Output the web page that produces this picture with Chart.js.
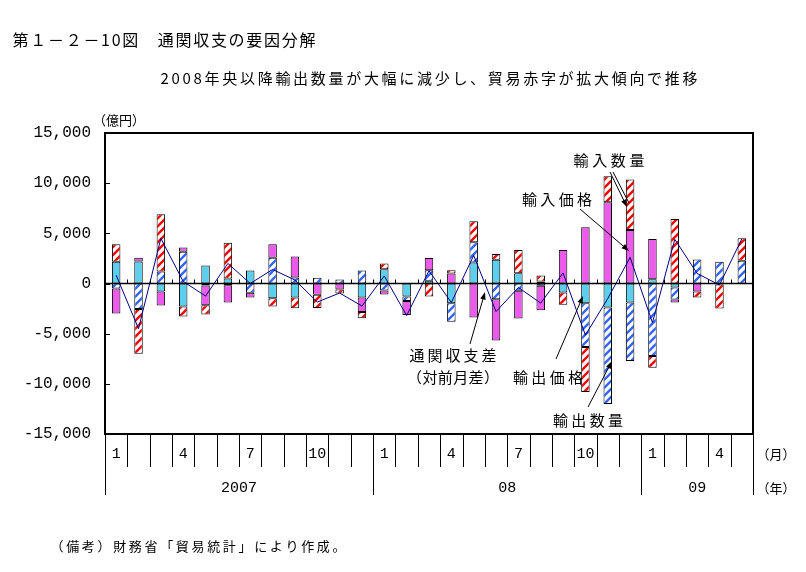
<!DOCTYPE html>
<html>
<head>
<meta charset="utf-8">
<script src="https://cdn.jsdelivr.net/npm/chart.js@4.4.0/dist/chart.umd.min.js"></script>
<style>
    html, body { margin: 0; padding: 0; background: #ffffff; }
    #factor_chart_cnv { display: block; }
</style>
</head>
<body>
<canvas id="factor_chart_cnv" width="806" height="572"></canvas>
<script>
// 通関収支の要因分解 (2007/1 - 2009/5), 億円

const categories = [
    "2007/1", "2007/2", "2007/3", "2007/4", "2007/5", "2007/6", "2007/7", "2007/8", "2007/9", "2007/10", "2007/11", "2007/12",
    "2008/1", "2008/2", "2008/3", "2008/4", "2008/5", "2008/6", "2008/7", "2008/8", "2008/9", "2008/10", "2008/11", "2008/12",
    "2009/1", "2009/2", "2009/3", "2009/4", "2009/5"
];

// stack order follows the reference: 輸出価格, 輸出数量, 輸入価格, 輸入数量
const export_price = [2170, 2200, -800, -2300, 1800, 500, 1300, -1470, -1400, 0, 0, -1400,
    1430, -1300, 270, -1970, 2100, 2370, 1030, 200, -900, -1970, -2400, -1900, 430, -400, 0, 0, 0];
const export_quantity = [-500, -2530, 1200, 3170, -200, -170, -930, 2570, 600, 570, 400, 1300,
    -700, -450, 1050, -1830, 2000, -1570, -730, -230, 0, -4370, -9600, -5830, -7230, -1200, 2400, 2170, 2270];
const import_price = [-2500, 370, -1400, 430, -1970, -1730, -470, 1330, 2100, -1130, -600, -1430,
    -400, -1400, 1230, 1000, -3400, -4100, -2770, -2430, 3330, 5600, 8100, 5330, 4000, -300, -800, -100, 0];
const import_quantity = [1730, -4470, 5700, -1000, -930, 3550, 0, -820, -1070, -1300, -400, -630,
    570, 0, -1300, 330, 2100, 570, 2300, 600, -1230, -4470, 2600, 5030, -1170, 6430, -600, -2400, 2230];
const balance_change = [830, -4500, 4500, 200, -1250, 2000, 0, 1400, 350, -1850, -950, -2250,
    750, -3200, 1270, -1900, 2800, -2800, -400, -1950, 1050, -5150, -1500, 2600, -3900, 4400, 1000, -150, 4450];

const month_tick_labels = ["1", "", "", "4", "", "", "7", "", "", "10", "", "",
    "1", "", "", "4", "", "", "7", "", "", "10", "", "",
    "1", "", "", "4", ""];
const year_labels = ["2007", "08", "09"];
const year_starts = [0, 12, 24, 29];   // category index where each year begins (last = end)
const y_ticks = [-15000, -10000, -5000, 0, 5000, 10000, 15000];

const jp_font = "'Noto Sans CJK JP', 'Noto Sans', sans-serif";
const num_font = "'Liberation Mono', 'DejaVu Sans Mono', monospace";

/**
 * Diagonal "/" hatch on white, used for the quantity bars.
 */
function stripe_pattern(color) {
    const cnv = document.createElement("canvas");
    cnv.width = 8;
    cnv.height = 8;
    const g = cnv.getContext("2d");
    g.fillStyle = "#ffffff";
    g.fillRect(0, 0, 8, 8);
    g.strokeStyle = color;
    g.lineWidth = 2.4;
    g.beginPath();
    g.moveTo(-2, 10); g.lineTo(10, -2);
    g.moveTo(-2, 2); g.lineTo(2, -2);
    g.moveTo(6, 10); g.lineTo(10, 6);
    g.stroke();
    return g.createPattern(cnv, "repeat");
}

function spaced_text(ctx, text, cx, cy, width) {
    const chars = Array.from(text);
    const widths = chars.map(c => ctx.measureText(c).width);
    const natural = widths.reduce((a, b) => a + b, 0);
    let gap = chars.length > 1 ? (width - natural) / (chars.length - 1) : 0;
    if (gap < 0) gap = 0;
    const total = natural + gap * (chars.length - 1);
    let x = cx - total / 2;
    ctx.textAlign = "left";
    chars.forEach((c, i) => {
        ctx.fillText(c, x, cy);
        x += widths[i] + gap;
    });
}

function arrow(ctx, x1, y1, x2, y2) {
    const ang = Math.atan2(y2 - y1, x2 - x1);
    const head = 8;
    ctx.strokeStyle = "#000000";
    ctx.fillStyle = "#000000";
    ctx.lineWidth = 1;
    ctx.beginPath();
    ctx.moveTo(x1, y1);
    ctx.lineTo(x2 - Math.cos(ang) * head * 0.8, y2 - Math.sin(ang) * head * 0.8);
    ctx.stroke();
    ctx.beginPath();
    ctx.moveTo(x2, y2);
    ctx.lineTo(x2 - head * Math.cos(ang - 0.35), y2 - head * Math.sin(ang - 0.35));
    ctx.lineTo(x2 - head * Math.cos(ang + 0.35), y2 - head * Math.sin(ang + 0.35));
    ctx.closePath();
    ctx.fill();
}

// text decorations, frame and the two-row category axis
const decoration_plugin = {
    id: "decoration_plugin",
    afterDraw(chart) {
        const ctx = chart.ctx;
        const area = chart.chartArea;
        const x_scale = chart.scales.x;
        const y_scale = chart.scales.y;
        const cell = (area.right - area.left) / categories.length;
        const zero_y = y_scale.getPixelForValue(0);

        ctx.save();
        ctx.strokeStyle = "#000000";

        // zero line with small ticks on the month borders
        ctx.lineWidth = 1.5;
        ctx.beginPath();
        ctx.moveTo(area.left, zero_y);
        ctx.lineTo(area.right, zero_y);
        ctx.stroke();
        ctx.lineWidth = 1;
        ctx.beginPath();
        for (let i = 1; i < categories.length; i++) {
            const bx = Math.round(x_scale.getPixelForValue(i) - cell / 2) + 0.5;
            ctx.moveTo(bx, zero_y);
            ctx.lineTo(bx, zero_y - 4);
        }
        // inner ticks on the value axis
        y_ticks.forEach(v => {
            const ty = Math.round(y_scale.getPixelForValue(v)) + 0.5;
            ctx.moveTo(area.left, ty);
            ctx.lineTo(area.left + 5, ty);
        });
        ctx.stroke();

        // plot frame
        ctx.lineWidth = 2;
        ctx.strokeRect(area.left, area.top, area.right - area.left, area.bottom - area.top);

        // month / year rows
        ctx.lineWidth = 1;
        ctx.beginPath();
        for (let i = 0; i <= categories.length; i++) {
            const bx = Math.round(area.left + i * cell) + 0.5;
            const long = year_starts.indexOf(i) >= 0;
            ctx.moveTo(bx, area.bottom);
            ctx.lineTo(bx, long ? 495 : 467);
        }
        ctx.stroke();

        ctx.fillStyle = "#000000";
        ctx.textBaseline = "middle";
        ctx.font = "15px " + num_font;
        ctx.textAlign = "center";
        month_tick_labels.forEach((lbl, i) => {
            if (lbl) ctx.fillText(lbl, x_scale.getPixelForValue(i), 454);
        });
        year_labels.forEach((lbl, k) => {
            const x0 = area.left + year_starts[k] * cell;
            const x1 = area.left + year_starts[k + 1] * cell;
            ctx.fillText(lbl, (x0 + x1) / 2, 488);
        });

        // titles and units
        ctx.font = "16px " + jp_font;
        spaced_text(ctx, "第１－２－10図　通関収支の要因分解", 164, 40, 303);
        ctx.font = "15px " + jp_font;
        spaced_text(ctx, "2008年央以降輸出数量が大幅に減少し、貿易赤字が拡大傾向で推移", 429, 78, 537);
        ctx.font = "13px " + jp_font;
        spaced_text(ctx, "（億円）", 119, 120, 50);
        spaced_text(ctx, "（月）", 776, 454, 36);
        spaced_text(ctx, "（年）", 776, 488, 36);
        ctx.font = "13px " + jp_font;
        spaced_text(ctx, "（備考）財務省「貿易統計」により作成。", 198, 546, 295);

        // series call-outs
        ctx.font = "15px " + jp_font;
        spaced_text(ctx, "輸入数量", 609, 160, 71);
        spaced_text(ctx, "輸入価格", 557, 199, 70);
        spaced_text(ctx, "通関収支差", 453, 355, 87);
        spaced_text(ctx, "（対前月差）", 453, 377, 92);
        spaced_text(ctx, "輸出価格", 548, 377, 70);
        spaced_text(ctx, "輸出数量", 588, 420, 70);

        arrow(ctx, 610, 172, 627, 207);
        ctx.beginPath();
        ctx.moveTo(613, 172);
        ctx.lineTo(629, 203);
        ctx.stroke();
        arrow(ctx, 580, 209, 629, 251);
        arrow(ctx, 470, 344, 485, 292);
        arrow(ctx, 556, 359, 583, 296);
        arrow(ctx, 588, 407, 612, 361);

        ctx.restore();
    }
};

const bar_common = {
    type: "bar",
    borderColor: "#000000",
    borderWidth: 1,
    borderSkipped: false,
    barPercentage: 0.38,
    categoryPercentage: 1.0,
    yAxisID: "y",
    order: 1
};

// the price series are fine dot screens in the original; a flat tint of the same colour is used
const factor_chart = new Chart(document.getElementById("factor_chart_cnv").getContext("2d"), {
    data: {
        labels: categories,
        datasets: [
            Object.assign({}, bar_common, {
                label: "輸出価格",
                data: export_price,
                backgroundColor: "#5ccfee"
            }),
            Object.assign({}, bar_common, {
                label: "輸出数量",
                data: export_quantity,
                backgroundColor: stripe_pattern("#3366ff")
            }),
            Object.assign({}, bar_common, {
                label: "輸入価格",
                data: import_price,
                backgroundColor: "#ec5aec"
            }),
            Object.assign({}, bar_common, {
                label: "輸入数量",
                data: import_quantity,
                backgroundColor: stripe_pattern("#ff0000")
            }),
            {
                type: "line",
                label: "通関収支差（対前月差）",
                data: balance_change,
                borderColor: "#000080",
                borderWidth: 1,
                pointRadius: 0,
                tension: 0,
                fill: false,
                yAxisID: "y2",
                order: 0
            }
        ]
    },
    options: {
        responsive: false,
        animation: false,
        events: [],
        layout: {
            padding: {"top": 133, "bottom": 138, "right": 53, "left": 0}
        },
        plugins: {
            legend: {display: false},
            tooltip: {enabled: false}
        },
        scales: {
            x: {
                stacked: true,
                display: false,
                offset: true
            },
            y: {
                stacked: true,
                min: -15000,
                max: 15000,
                afterFit: function (scale) {
                    scale.width = 105;
                },
                afterBuildTicks: function (scale) {
                    scale.ticks = y_ticks.map(v => ({value: v}));
                },
                ticks: {
                    padding: 14,
                    color: "#000000",
                    font: {family: "'Liberation Mono', 'DejaVu Sans Mono', monospace", size: 16},
                    callback: v => v.toLocaleString("en-US")
                },
                grid: {display: false, drawTicks: false},
                border: {display: false}
            },
            y2: {
                display: false,
                min: -15000,
                max: 15000
            }
        }
    },
    plugins: [decoration_plugin]
});
</script>
</body>
</html>
